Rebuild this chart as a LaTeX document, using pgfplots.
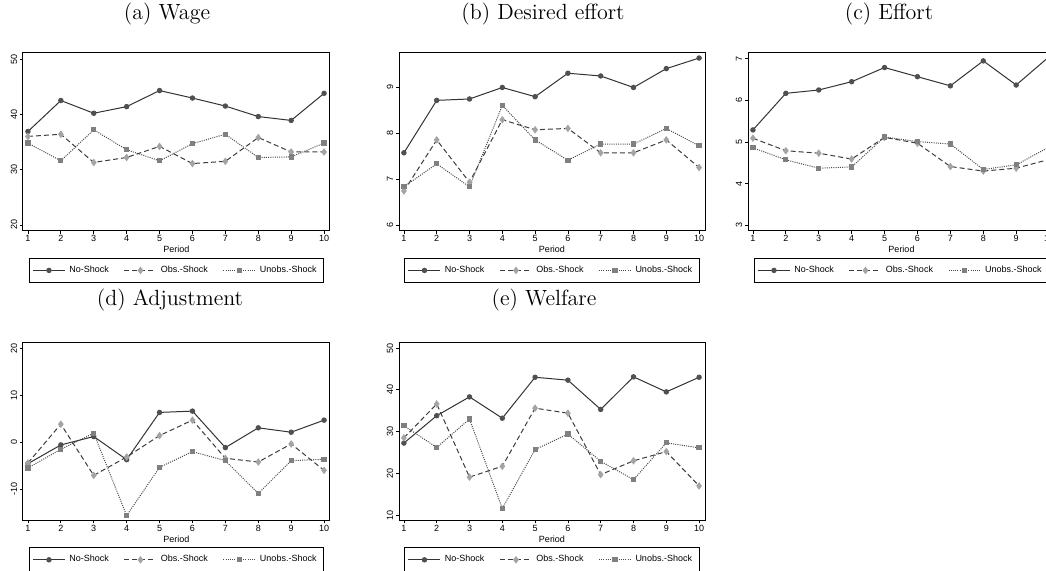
\documentclass[border=0pt]{standalone}
\usepackage{fontspec}
\usepackage{pgfplots}
\pgfplotsset{compat=1.18}
\newfontfamily\statafont{Liberation Sans}
\definecolor{cA}{HTML}{505050}
\definecolor{cB}{HTML}{A4A4A4}
\definecolor{cC}{HTML}{808080}
\definecolor{lA}{HTML}{333333}
\definecolor{lB}{HTML}{3C3C3C}
\definecolor{lC}{HTML}{4A4A4A}
\newcommand{\sfs}{\statafont\fontsize{4.5}{5}\selectfont}
\newcommand{\ttl}{\fontsize{11}{13}\selectfont}
\pgfplotsset{
  stata/.style={
    scale only axis, width=153.5pt, height=89pt,
    xmin=0.85, xmax=10.18,
    xtick={1,...,10},
    tick align=outside, xtick pos=bottom, ytick pos=left,
    major tick length=1.5pt,
    tick style={black, line width=0.4pt},
    axis line style={line width=0.5pt, black},
    ticklabel style={font=\sfs, /pgf/number format/assume math mode=true},
    xticklabel style={inner sep=0.6pt},
    yticklabel style={rotate=90, anchor=south, inner sep=1.2pt},
    xlabel={Period},
    xlabel style={font=\sfs, at={(axis description cs:0.5,0)}, anchor=center, yshift=-9.3pt},
    legend columns=3,
    legend style={at={(0.5,-0.152)}, anchor=north, draw=black, line width=0.4pt,
      font=\sfs, inner sep=1.6pt,
      /tikz/every even column/.append style={column sep=5.5pt}},
    legend image code/.code={\draw[##1, mark repeat=2, mark phase=2] plot coordinates {(0pt,0pt) (8pt,0pt) (16pt,0pt)};},
    clip=false,
  },
  sNo/.style={color=lA, line width=0.5pt, solid, mark=*, mark size=1.1pt, mark options={solid, fill=cA, draw=cA}},
  sObs/.style={color=lB, line width=0.5pt, dash pattern=on 2.5pt off 1.5pt, mark=diamond*, mark size=1.5pt, mark options={solid, fill=cB, draw=cB}},
  sUn/.style={color=lC, line width=0.5pt, dash pattern=on 0.5pt off 0.6pt, mark=square*, mark size=1.05pt, mark options={solid, fill=cC, draw=cC}},
}
\begin{document}
\begin{tikzpicture}
\path (0,0) rectangle (523pt,285.5pt);
\begin{pgfinterruptboundingbox}
\node[font=\ttl] at (83.5pt,278.5pt) {(a) Wage};
\node[font=\ttl] at (271.5pt,278.5pt) {(b) Desired effort};
\node[font=\ttl] at (444.5pt,278.5pt) {(c) Effort};
\node[font=\ttl] at (85pt,135.5pt) {(d) Adjustment};
\node[font=\ttl] at (272pt,135.5pt) {(e) Welfare};

\begin{axis}[stata, at={(11.5pt,170pt)}, anchor=south west, ymin=18.9, ymax=51.1, ytick={20,30,40,50}]
\addplot[sNo] coordinates {(1,36.9) (2,42.5) (3,40.2) (4,41.4) (5,44.3) (6,42.95) (7,41.5) (8,39.6) (9,38.9) (10,43.8)};
\addplot[sObs] coordinates {(1,36.0) (2,36.4) (3,31.3) (4,32.2) (5,34.2) (6,31.1) (7,31.5) (8,35.8) (9,33.2) (10,33.2)};
\addplot[sUn] coordinates {(1,34.8) (2,31.6) (3,37.2) (4,33.6) (5,31.6) (6,34.7) (7,36.4) (8,32.2) (9,32.3) (10,34.8)};
\legend{No-Shock, Obs.-Shock, Unobs.-Shock}
\end{axis}

\begin{axis}[stata, width=153pt, at={(199.5pt,170pt)}, anchor=south west, ymin=5.88, ymax=9.75, ytick={6,7,8,9}]
\addplot[sNo] coordinates {(1,7.58) (2,8.72) (3,8.75) (4,9.0) (5,8.80) (6,9.31) (7,9.25) (8,9.0) (9,9.41) (10,9.64)};
\addplot[sObs] coordinates {(1,6.75) (2,7.86) (3,6.94) (4,8.30) (5,8.08) (6,8.11) (7,7.58) (8,7.58) (9,7.86) (10,7.26)};
\addplot[sUn] coordinates {(1,6.84) (2,7.34) (3,6.84) (4,8.61) (5,7.86) (6,7.42) (7,7.77) (8,7.77) (9,8.11) (10,7.73)};
\legend{No-Shock, Obs.-Shock, Unobs.-Shock}
\end{axis}

\begin{axis}[stata, at={(374pt,170pt)}, anchor=south west, ymin=2.86, ymax=7.14, ytick={3,4,5,6,7}]
\addplot[sNo] coordinates {(1,5.29) (2,6.17) (3,6.25) (4,6.45) (5,6.79) (6,6.57) (7,6.35) (8,6.95) (9,6.37) (10,7.05)};
\addplot[sObs] coordinates {(1,5.09) (2,4.79) (3,4.73) (4,4.59) (5,5.11) (6,4.97) (7,4.41) (8,4.30) (9,4.37) (10,4.58)};
\addplot[sUn] coordinates {(1,4.86) (2,4.57) (3,4.37) (4,4.40) (5,5.12) (6,5.01) (7,4.95) (8,4.34) (9,4.45) (10,4.88)};
\legend{No-Shock, Obs.-Shock, Unobs.-Shock}
\end{axis}

\begin{axis}[stata, height=88.75pt, at={(11.5pt,25.25pt)}, anchor=south west, ymin=-16.61, ymax=21.07, ytick={-10,0,10,20}]
\addplot[sNo] coordinates {(1,-4.55) (2,-0.57) (3,1.21) (4,-3.7) (5,6.33) (6,6.61) (7,-1.14) (8,3.06) (9,2.13) (10,4.69)};
\addplot[sObs] coordinates {(1,-4.4) (2,3.84) (3,-7.04) (4,-3.13) (5,1.42) (6,4.69) (7,-3.41) (8,-4.19) (9,-0.36) (10,-5.97)};
\addplot[sUn] coordinates {(1,-5.47) (2,-1.49) (3,1.92) (4,-15.56) (5,-5.33) (6,-1.99) (7,-3.91) (8,-10.87) (9,-3.91) (10,-3.62)};
\legend{No-Shock, Obs.-Shock, Unobs.-Shock}
\end{axis}

\begin{axis}[stata, width=153pt, height=88.75pt, at={(199.5pt,25.25pt)}, anchor=south west, ymin=8.72, ymax=51.2, ytick={10,20,30,40,50}]
\addplot[sNo] coordinates {(1,27.25) (2,33.8) (3,38.3) (4,33.2) (5,43.0) (6,42.3) (7,35.3) (8,43.1) (9,39.5) (10,43.0)};
\addplot[sObs] coordinates {(1,28.5) (2,36.6) (3,19.1) (4,21.7) (5,35.6) (6,34.4) (7,19.7) (8,23.0) (9,25.2) (10,17.0)};
\addplot[sUn] coordinates {(1,31.4) (2,26.2) (3,33.0) (4,11.6) (5,25.7) (6,29.4) (7,22.9) (8,18.5) (9,27.3) (10,26.1)};
\legend{No-Shock, Obs.-Shock, Unobs.-Shock}
\end{axis}
\end{pgfinterruptboundingbox}
\end{tikzpicture}
\end{document}
